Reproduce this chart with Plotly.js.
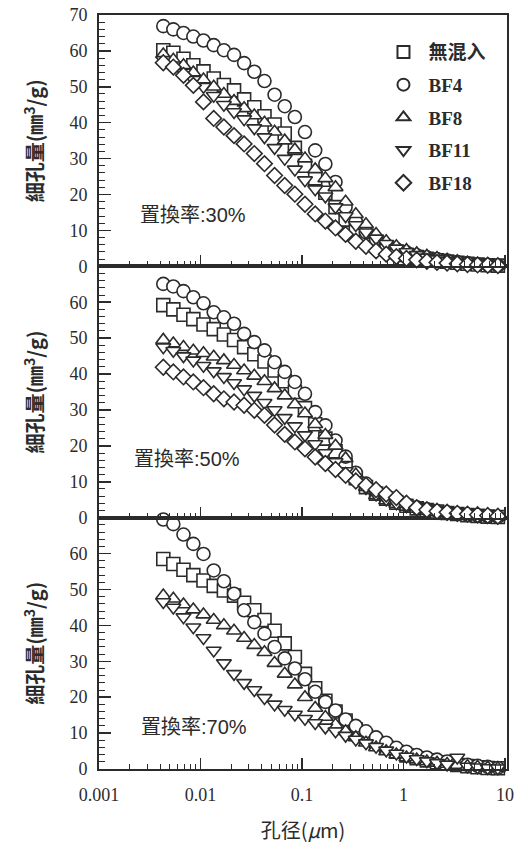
<!DOCTYPE html>
<html>
<head>
<meta charset="utf-8">
<script src="https://cdn.plot.ly/plotly-3.0.1.min.js"></script>
<style>html,body{margin:0;padding:0;background:#fff;}#chart{width:528px;height:846px;}</style>
</head>
<body>
<div id="chart"></div>
<script>
// Pore diameter (μm)
const poreDiameter = [0.0043, 0.0054, 0.0068, 0.0085, 0.0107, 0.0135, 0.0170, 0.0214, 0.0269, 0.0339,
  0.0427, 0.0537, 0.0676, 0.0851, 0.107, 0.135, 0.170, 0.214, 0.269, 0.339,
  0.427, 0.537, 0.676, 0.851, 1.07, 1.35, 1.70, 2.14, 2.69, 3.39,
  4.27, 5.37, 6.76, 8.51, 10.7];

const seriesNames = ['無混入', 'BF4', 'BF8', 'BF11', 'BF18'];
const panelLabels = ['置換率:30%', '置換率:50%', '置換率:70%'];

// 置換率 30%
const none30 = [60.2, 59.5, 57.8, 56.0, 54.3, 52.3, 50.5, 49.0, 46.5, 44.3, 41.8, 39.5, 37.0, 33.0, 28.0, 24.5, 20.5, 16.5, 13.0, 10.0, 7.8, 6.2, 5.0, 4.0, 3.2, 2.6, 2.1, 1.7, 1.3, 1.0, 0.7, 0.5, 0.3, 0.2, 0.1];
const bf4_30 = [66.9, 66.0, 65.0, 64.0, 62.9, 61.6, 60.2, 58.9, 56.6, 54.2, 51.6, 47.8, 44.6, 41.6, 37.4, 32.3, 28.5, 23.5, 16.5, 12.5, 9.5, 7.5, 6.0, 4.8, 3.9, 3.1, 2.5, 2.0, 1.6, 1.2, 0.9, 0.6, 0.4, 0.2, 0.1];
const bf8_30 = [59.0, 57.5, 56.0, 54.0, 52.0, 50.0, 48.0, 46.0, 44.0, 42.0, 40.0, 37.5, 35.0, 32.5, 30.0, 27.0, 24.5, 22.0, 18.0, 14.5, 11.7, 9.0, 7.0, 5.6, 4.5, 3.6, 2.9, 2.3, 1.8, 1.4, 1.0, 0.7, 0.5, 0.3, 0.1];
const bf11_30 = [57.5, 56.0, 54.0, 52.0, 50.0, 47.5, 45.0, 43.0, 41.0, 38.5, 36.0, 33.0, 30.0, 27.0, 24.0, 21.5, 19.5, 16.5, 14.0, 11.5, 9.5, 7.8, 6.3, 5.0, 4.0, 3.2, 2.5, 2.0, 1.5, 1.1, 0.8, 0.5, 0.3, 0.2, 0.1];
const bf18_30 = [56.7, 55.5, 53.2, 50.4, 45.8, 41.2, 38.8, 36.4, 34.1, 31.4, 28.6, 25.3, 22.5, 20.1, 17.3, 14.6, 12.6, 10.7, 8.9, 7.0, 5.6, 4.3, 3.4, 2.7, 2.2, 1.8, 1.4, 1.1, 0.9, 0.7, 0.5, 0.4, 0.3, 0.2, 0.1];

// 置換率 50%
const none50 = [59.2, 58.0, 56.5, 55.3, 53.8, 52.5, 51.0, 49.5, 47.5, 45.5, 43.5, 41.0, 38.0, 35.0, 30.5, 26.0, 22.0, 18.5, 14.5, 11.0, 8.5, 6.7, 5.3, 4.2, 3.3, 2.6, 2.1, 1.7, 1.3, 1.0, 0.7, 0.5, 0.3, 0.2, 0.1];
const bf4_50 = [65.1, 64.4, 63.1, 61.4, 59.7, 57.2, 55.8, 54.0, 51.2, 48.9, 46.6, 43.3, 40.6, 37.8, 34.5, 29.4, 25.7, 21.5, 17.0, 12.5, 9.5, 7.3, 5.8, 4.6, 3.6, 2.9, 2.3, 1.8, 1.4, 1.1, 0.8, 0.6, 0.4, 0.2, 0.1];
const bf8_50 = [49.5, 48.5, 47.5, 46.5, 45.8, 44.8, 43.8, 42.5, 41.0, 39.5, 38.0, 36.0, 34.0, 31.5, 29.0, 26.0, 23.0, 20.0, 16.5, 12.0, 8.5, 6.2, 4.8, 3.8, 3.0, 2.4, 1.9, 1.5, 1.2, 0.9, 0.7, 0.5, 0.3, 0.2, 0.1];
const bf11_50 = [47.5, 46.5, 45.0, 43.8, 42.3, 40.8, 39.2, 37.5, 35.8, 34.0, 32.0, 30.0, 27.8, 25.5, 23.0, 20.5, 18.0, 15.5, 13.0, 10.5, 8.3, 6.5, 5.1, 4.0, 3.2, 2.5, 2.0, 1.6, 1.2, 0.9, 0.7, 0.5, 0.3, 0.2, 0.1];
const bf18_50 = [41.9, 40.6, 39.2, 37.8, 36.2, 34.5, 33.1, 32.2, 31.3, 29.9, 28.5, 25.8, 23.2, 21.1, 19.2, 16.9, 15.1, 13.4, 11.8, 10.2, 9.0, 7.8, 6.6, 5.6, 4.0, 2.8, 2.2, 1.8, 1.5, 1.2, 1.0, 0.8, 0.6, 0.4, 0.2];

// 置換率 70%
const none70 = [58.5, 57.1, 55.5, 54.0, 52.5, 51.0, 49.7, 48.3, 46.3, 44.2, 41.5, 38.5, 35.0, 31.2, 26.5, 22.5, 19.0, 16.0, 13.5, 11.0, 9.0, 7.3, 6.0, 4.8, 3.8, 3.0, 2.4, 1.9, 1.5, 1.1, 0.8, 0.5, 0.3, 0.2, 0.1];
const bf4_70 = [69.5, 68.2, 65.3, 62.7, 59.9, 55.3, 52.3, 48.8, 44.2, 40.9, 37.7, 34.0, 30.8, 28.0, 25.0, 21.5, 18.7, 16.3, 13.8, 12.0, 10.5, 8.8, 7.3, 5.9, 4.8, 3.9, 3.2, 2.6, 2.1, 1.6, 1.2, 0.9, 0.6, 0.3, 0.1];
const bf8_70 = [48.3, 47.4, 45.8, 44.4, 43.0, 41.5, 40.0, 38.5, 36.5, 34.5, 32.5, 29.5, 26.5, 23.5, 20.0, 17.0, 14.5, 12.3, 10.5, 8.8, 7.3, 6.0, 4.9, 4.0, 3.2, 2.6, 2.1, 1.7, 1.4, 1.1, 0.8, 0.6, 0.4, 0.2, 0.1];
const bf11_70 = [46.5, 45.0, 42.3, 39.5, 36.5, 33.0, 29.5, 26.5, 24.0, 22.0, 19.8, 18.0, 16.5, 15.2, 14.0, 12.8, 11.6, 10.5, 9.3, 8.2, 7.2, 6.2, 5.2, 4.3, 3.5, 2.8, 2.2, 1.7, 1.3, 3.2, 0.7, 0.5, 0.3, 0.2, 0.1];

const yTicksTop = [0, 10, 20, 30, 40, 50, 60, 70];
const yTicksLower = [0, 10, 20, 30, 40, 50, 60];
const xTickVals = [0.001, 0.01, 0.1, 1, 10];
const xTickText = ['0.001', '0.01', '0.1', '1', '10'];
const xMinorVals = [0.002,0.003,0.004,0.005,0.006,0.007,0.008,0.009,0.02,0.03,0.04,0.05,0.06,0.07,0.08,0.09,
  0.2,0.3,0.4,0.5,0.6,0.7,0.8,0.9,2,3,4,5,6,7,8,9];

const symbolsFilled = ['square', 'circle', 'triangle-up', 'triangle-down', 'diamond'];
const markerSizes = [13, 13, 13, 13, 12];
const INK = '#2b2b2b';
const serifFont = '"Liberation Serif", "Noto Sans CJK SC", serif';
const cjkFont = '"Liberation Sans", "Noto Sans CJK SC", sans-serif';
const titleFont = '"Noto Sans CJK SC", sans-serif';

const panels = [
  {xa: 'x3', ya: 'y3', data: [none30, bf4_30, bf8_30, bf11_30, bf18_30], legend: true},
  {xa: 'x2', ya: 'y2', data: [none50, bf4_50, bf8_50, bf11_50, bf18_50], legend: false},
  {xa: 'x', ya: 'y', data: [none70, bf4_70, bf8_70, bf11_70, null], legend: false}
];

const traces = [];
panels.forEach(p => {
  p.data.forEach((ys, i) => {
    if (!ys) return;
    traces.push({
      type: 'scatter', mode: 'markers',
      x: poreDiameter, y: ys,
      xaxis: p.xa, yaxis: p.ya,
      name: seriesNames[i], legendgroup: 'g' + i, showlegend: p.legend,
      cliponaxis: false,
      marker: {symbol: symbolsFilled[i], size: markerSizes[i], color: '#fff', line: {color: INK, width: 1.6}}
    });
  });
});

function xAxis(anchor, showLabels) {
  return {
    type: 'log', range: [-3, 1.02], anchor: anchor,
    showline: true, linecolor: INK, linewidth: 2, mirror: true,
    ticks: 'inside', ticklen: 11, tickwidth: 1.5, tickcolor: INK,
    tickmode: 'array', tickvals: xTickVals, ticktext: xTickText,
    showticklabels: showLabels, ticklabelstandoff: 8,
    tickfont: {family: serifFont, size: 18, color: INK},
    minor: {ticks: 'inside', ticklen: 5, tickwidth: 1, tickcolor: INK, tickmode: 'array',
            tickvals: xMinorVals, showgrid: false},
    showgrid: false, zeroline: false, fixedrange: true
  };
}
function yAxis(anchor, domain, tickvals, titleText) {
  return {
    range: [0, 70], domain: domain, anchor: anchor,
    showline: true, linecolor: INK, linewidth: 2, mirror: true,
    ticks: 'inside', ticklen: 12, tickwidth: 1.5, tickcolor: INK,
    tickmode: 'array', tickvals: tickvals, ticklabelstandoff: 6,
    tickfont: {family: serifFont, size: 18, color: INK},
    minor: {ticks: 'inside', ticklen: 6, tickwidth: 1, tickcolor: INK, dtick: 2, tick0: 0, showgrid: false},
    title: {text: titleText, standoff: 20, font: {family: titleFont, size: 20, color: INK, weight: 700}},
    showgrid: false, zeroline: false, fixedrange: true
  };
}

const yTitle = '細孔量(㎜<sup>3</sup>/g)';
const layout = {
  width: 528, height: 846,
  margin: {l: 99, r: 21, t: 15, b: 77},
  paper_bgcolor: '#fff', plot_bgcolor: '#fff',
  showlegend: true,
  legend: {
    x: 0.685, y: 0.976, xanchor: 'left', yanchor: 'top',
    bgcolor: 'rgba(0,0,0,0)', traceorder: 'grouped', tracegroupgap: 5,
    itemsizing: 'constant', itemwidth: 40,
    font: {family: serifFont, size: 19, color: INK, weight: 700}
  },
  xaxis: Object.assign(xAxis('y', true), {
    title: {text: '孔径(<i>μ</i>m)', standoff: 20, font: {family: titleFont, size: 20, color: INK}}
  }),
  xaxis2: xAxis('y2', false),
  xaxis3: xAxis('y3', false),
  yaxis: yAxis('x', [0, 1/3], yTicksLower, yTitle),
  yaxis2: yAxis('x2', [1/3, 2/3], yTicksLower, yTitle),
  yaxis3: yAxis('x3', [2/3, 1], yTicksTop, yTitle),
  annotations: [
    {text: panelLabels[0], xref: 'paper', yref: 'y3', x: 0.095, y: 14.4, xanchor: 'left', yanchor: 'middle', showarrow: false, font: {family: cjkFont, size: 20, color: INK}},
    {text: panelLabels[1], xref: 'paper', yref: 'y2', x: 0.08, y: 16.4, xanchor: 'left', yanchor: 'middle', showarrow: false, font: {family: cjkFont, size: 20, color: INK}},
    {text: panelLabels[2], xref: 'paper', yref: 'y', x: 0.098, y: 11.8, xanchor: 'left', yanchor: 'middle', showarrow: false, font: {family: cjkFont, size: 20, color: INK}}
  ]
};

Plotly.newPlot('chart', traces, layout, {staticPlot: true, displayModeBar: false});
</script>
</body>
</html>
